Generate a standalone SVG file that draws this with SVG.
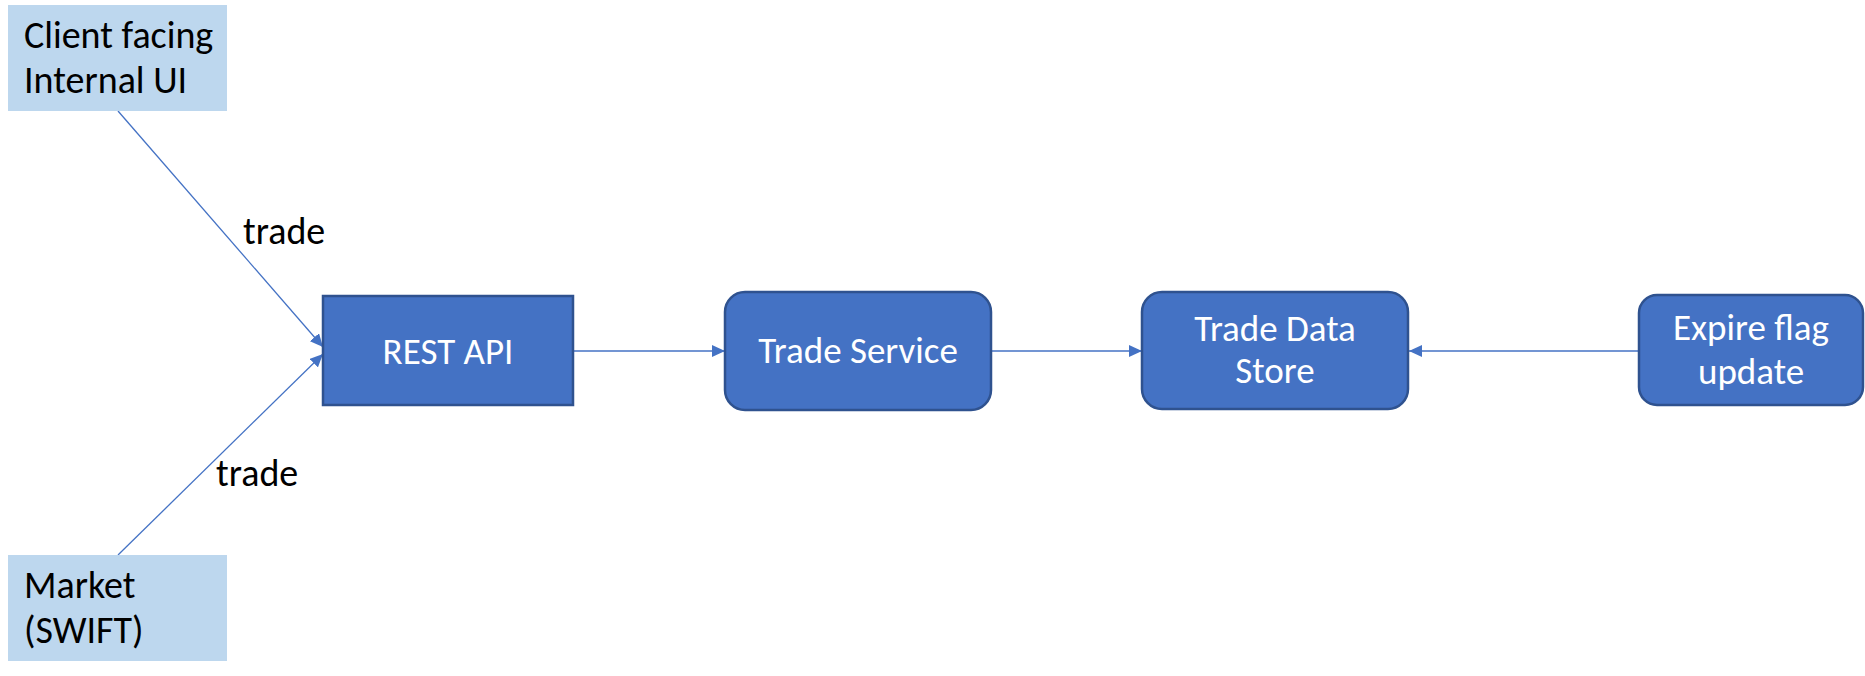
<svg xmlns="http://www.w3.org/2000/svg" width="1865" height="676" viewBox="0 0 1865 676">
  <defs>
    <marker id="arrow" viewBox="0 0 13 12" refX="13" refY="6" markerWidth="13" markerHeight="12" markerUnits="userSpaceOnUse" orient="auto">
      <path d="M0,0 L13,6 L0,12 Z" fill="#4472C4"/>
    </marker>
    <style>
      .src { fill: #BDD7EE; }
      .proc { fill: #4472C4; stroke: #2F528F; stroke-width: 2.5; }
      .dark { font-family: "Carlito", "Lato", "Liberation Sans", sans-serif; font-size: 38px; fill: #000000; }
      .light { font-family: "Carlito", "Lato", "Liberation Sans", sans-serif; font-size: 37px; fill: #FFFFFF; text-anchor: middle; }
      .conn { stroke: #4472C4; stroke-width: 1.3; fill: none; marker-end: url(#arrow); }
    </style>
  </defs>
  <rect width="1865" height="676" fill="#FFFFFF"/>

  <g id="connectors">
    <line class="conn" x1="118" y1="111" x2="323" y2="347"/>
    <line class="conn" x1="118" y1="555" x2="323" y2="354"/>
    <line class="conn" x1="573" y1="351" x2="725" y2="351"/>
    <line class="conn" x1="991" y1="351" x2="1142" y2="351"/>
    <line class="conn" x1="1639" y1="351" x2="1409" y2="351"/>
    <text class="dark" x="243" y="244">trade</text>
    <text class="dark" x="216" y="486">trade</text>
  </g>

  <g id="client-ui">
    <rect class="src" x="8" y="5" width="219" height="106"/>
    <text class="dark" x="24" y="48">Client facing</text>
    <text class="dark" x="24" y="93">Internal UI</text>
  </g>

  <g id="market">
    <rect class="src" x="8" y="555" width="219" height="106"/>
    <text class="dark" x="24" y="598">Market</text>
    <text class="dark" x="24" y="643">(SWIFT)</text>
  </g>

  <g id="rest-api">
    <rect class="proc" x="323" y="296" width="250" height="109"/>
    <text class="light" x="448" y="364">REST API</text>
  </g>

  <g id="trade-service">
    <rect class="proc" x="725" y="292" width="266" height="118" rx="20" ry="20"/>
    <text class="light" x="858" y="363">Trade Service</text>
  </g>

  <g id="trade-data-store">
    <rect class="proc" x="1142" y="292" width="266" height="117" rx="20" ry="20"/>
    <text class="light" x="1275" y="341">Trade Data</text>
    <text class="light" x="1275" y="383">Store</text>
  </g>

  <g id="expire-flag-update">
    <rect class="proc" x="1639" y="295" width="224" height="110" rx="18" ry="18"/>
    <text class="light" x="1751" y="340">Expire flag</text>
    <text class="light" x="1751" y="384">update</text>
  </g>
</svg>
